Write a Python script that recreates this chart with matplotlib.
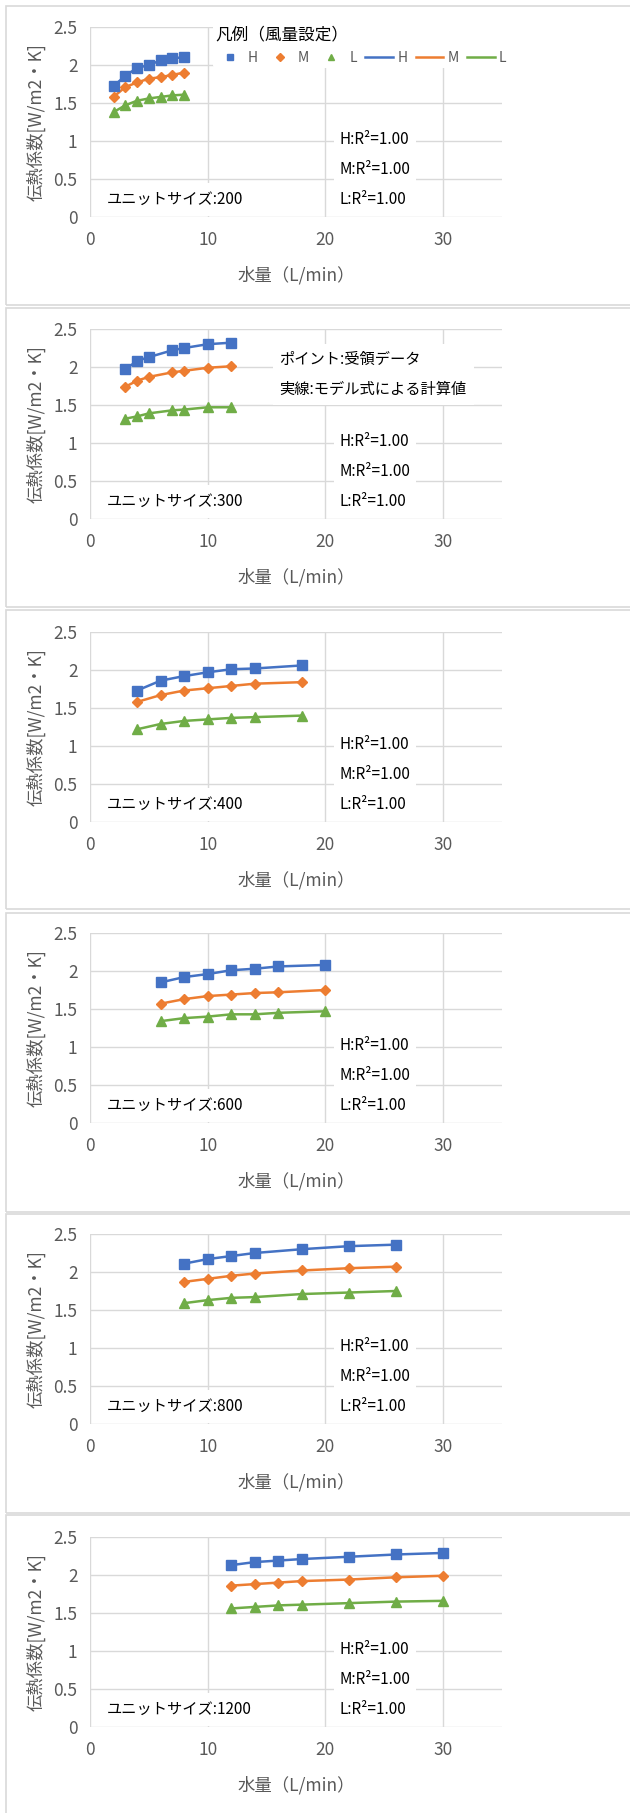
import matplotlib
matplotlib.use('Agg')
import matplotlib.pyplot as plt
from matplotlib.patches import Rectangle
from matplotlib.lines import Line2D

plt.rcParams['font.family'] = ['Noto Sans CJK JP', 'DejaVu Sans']

# data
unit_sizes = [200, 300, 400, 600, 800, 1200]
flow = [
    [2, 3, 4, 5, 6, 7, 8],
    [3, 4, 5, 7, 8, 10, 12],
    [4, 6, 8, 10, 12, 14, 18],
    [6, 8, 10, 12, 14, 16, 20],
    [8, 10, 12, 14, 18, 22, 26],
    [12, 14, 16, 18, 22, 26, 30],
]
coef_h = [
    [1.72, 1.86, 1.96, 2.00, 2.06, 2.09, 2.10],
    [1.97, 2.08, 2.13, 2.22, 2.25, 2.30, 2.32],
    [1.73, 1.86, 1.92, 1.97, 2.01, 2.02, 2.06],
    [1.85, 1.92, 1.96, 2.01, 2.03, 2.06, 2.08],
    [2.11, 2.17, 2.21, 2.25, 2.30, 2.34, 2.36],
    [2.13, 2.17, 2.19, 2.21, 2.24, 2.27, 2.29],
]
coef_m = [
    [1.58, 1.71, 1.77, 1.82, 1.84, 1.87, 1.90],
    [1.74, 1.82, 1.87, 1.93, 1.95, 1.99, 2.01],
    [1.58, 1.67, 1.73, 1.76, 1.79, 1.82, 1.84],
    [1.57, 1.63, 1.67, 1.69, 1.71, 1.72, 1.75],
    [1.87, 1.91, 1.95, 1.98, 2.02, 2.05, 2.07],
    [1.86, 1.88, 1.90, 1.92, 1.94, 1.97, 1.99],
]
coef_l = [
    [1.38, 1.47, 1.53, 1.56, 1.58, 1.60, 1.61],
    [1.32, 1.35, 1.39, 1.43, 1.44, 1.47, 1.47],
    [1.22, 1.29, 1.33, 1.35, 1.37, 1.38, 1.40],
    [1.34, 1.38, 1.40, 1.43, 1.43, 1.45, 1.47],
    [1.59, 1.63, 1.66, 1.67, 1.71, 1.73, 1.75],
    [1.56, 1.58, 1.60, 1.61, 1.63, 1.65, 1.66],
]
r2_text = 'H:R²=1.00\nM:R²=1.00\nL:R²=1.00'
yticks = [0, 0.5, 1, 1.5, 2, 2.5]
ytick_labels = ['0', '0.5', '1', '1.5', '2', '2.5']
xticks = [0, 10, 20, 30]

colors = {'H': '#4472C4', 'M': '#ED7D31', 'L': '#70AD47'}
markers = {'H': 's', 'M': 'D', 'L': '^'}
msizes = {'H': 6.5, 'M': 5, 'L': 6.5}
grey = '#595959'

W, H = 630, 1813
fig = plt.figure(figsize=(W / 100, H / 100), dpi=100)

ax_tops = [27, 329, 632, 933, 1234, 1537]
box_tops = [6, 308, 610, 913, 1214, 1515]

for i, size in enumerate(unit_sizes):
    # panel border
    fig.add_artist(Rectangle((6 / W, 1 - (box_tops[i] + 299) / H), 700 / W, 299 / H,
                             transform=fig.transFigure, fill=False,
                             ec='#d9d9d9', lw=1.2))
    ax = fig.add_axes([90 / W, 1 - (ax_tops[i] + 190) / H, 412 / W, 190 / H])
    for key, vals in (('H', coef_h[i]), ('M', coef_m[i]), ('L', coef_l[i])):
        ax.plot(flow[i], vals, color=colors[key], lw=1.8, zorder=3)
        ax.plot(flow[i], vals, ls='none', marker=markers[key], ms=msizes[key],
                color=colors[key], zorder=4)
    ax.set_xlim(0, 35)
    ax.set_ylim(0, 2.5)
    ax.set_xticks(xticks)
    ax.set_yticks(yticks)
    ax.set_yticklabels(ytick_labels)
    ax.grid(True, color='#d9d9d9', lw=1)
    ax.set_axisbelow(True)
    for s in ax.spines.values():
        s.set_visible(False)
    ax.tick_params(length=0, labelsize=12.5, labelcolor=grey)
    ax.tick_params(axis='x', pad=10)
    ax.tick_params(axis='y', pad=9)
    ax.set_xlabel('水量（L/min）', fontsize=12.5, color=grey, labelpad=12)
    ax.set_ylabel('伝熱係数[W/m2・K]', fontsize=12.5, color=grey, labelpad=6)

    ax.text(1.4, 0.23, 'ユニットサイズ:%d' % size, fontsize=11, color='black',
            va='center', ha='left', zorder=5,
            bbox=dict(fc='white', ec='none', pad=6))
    ax.text(21.2, 0.62, r2_text, fontsize=11, color='black', va='center',
            ha='left', linespacing=2.0, zorder=5,
            bbox=dict(fc='white', ec='none', pad=4))

    if i == 0:
        handles = [Line2D([], [], ls='none', marker=markers[k], ms=msizes[k] * 0.75,
                          color=colors[k]) for k in ('H', 'M', 'L')]
        handles += [Line2D([], [], lw=1.8, color=colors[k]) for k in ('H', 'M', 'L')]
        leg = fig.legend(handles, ['H', 'M', 'L', 'H', 'M', 'L'], ncol=6,
                         loc='upper left', bbox_to_anchor=(213 / W, 1 - 24 / H),
                         title='凡例（風量設定）', title_fontsize=12,
                         fontsize=10, labelcolor=grey, frameon=True,
                         facecolor='white', edgecolor='none', framealpha=1,
                         handlelength=2.0, handletextpad=0.3, columnspacing=0.6,
                         borderpad=0.2, borderaxespad=0, alignment='left')
        leg.set_zorder(10)
    if i == 1:
        ax.text(16.1, 1.90, 'ポイント:受領データ\n実線:モデル式による計算値',
                fontsize=11, color='black', va='center', ha='left',
                linespacing=2.0, zorder=5,
                bbox=dict(fc='white', ec='none', pad=5))

fig.savefig('out.png', dpi=100)
